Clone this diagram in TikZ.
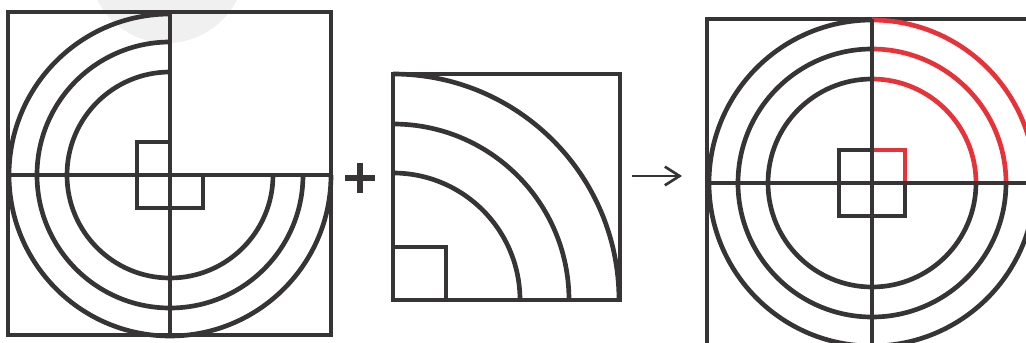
\documentclass[tikz,border=0pt]{standalone}
\usetikzlibrary{arrows.meta}
\definecolor{ink}{HTML}{363435}
\definecolor{hilite}{HTML}{E8323A}

\begin{document}
\begin{tikzpicture}[x=0.75pt, y=0.75pt,
    stroke/.style={draw=ink, line width=3.5pt},
    redstroke/.style={draw=hilite, line width=3.5pt}
]
\useasboundingbox (0,0) rectangle (1026,343);
\clip (0,0) rectangle (1026,343);

% faint shadow behind the left figure
\fill[black!6] (167,378) circle (78);

% left figure: three quarters
\coordinate (lc) at (170,168);
\draw[stroke] (8,8) rectangle (331,331);
\foreach \r in {161,133,103}
  \draw[stroke] (lc) ++(90:\r) arc[start angle=90, end angle=360, radius=\r];
\draw[stroke] (170,331) -- (170,8);
\draw[stroke] (8,168) -- (331,168);
\draw[stroke] (170,201) -- (137,201) -- (137,135) -- (203,135) -- (203,168);

% middle figure: the missing quarter
\coordinate (mc) at (393,43);
\draw[stroke] (mc) rectangle (620,269);
\foreach \r in {226,176,127}
  \draw[stroke] (mc) ++(0:\r) arc[start angle=0, end angle=90, radius=\r];
\draw[stroke] (mc) rectangle ++(53,53);

% plus and arrow
\coordinate (plus) at (360,165);
\draw[stroke, line width=3.8pt] (plus) ++(-15,0) -- ++(30,0);
\draw[stroke, line width=3.8pt] (plus) ++(0,-15) -- ++(0,30);
\coordinate (from) at (632,167);
\coordinate (to) at (682,167);
\draw[ink, line width=2pt, -{Straight Barb[length=11pt, width=14pt]}] (from) -- (to);

% right figure: completed target
\coordinate (rc) at (872,160);
\draw[stroke] (707,-10) rectangle (1045,324);
\foreach \r in {163,134,104}
  \draw[redstroke] (rc) ++(0:\r) arc[start angle=0, end angle=90, radius=\r];
\draw[redstroke] (872,193) -- (905,193) -- (905,160);
\foreach \r in {163,134,104}
  \draw[stroke] (rc) ++(90:\r) arc[start angle=90, end angle=360, radius=\r];
\draw[stroke] (872,193) -- (839,193) -- (839,127) -- (905,127) -- (905,160);
\draw[stroke] (872,324) -- (872,-10);
\draw[stroke] (707,160) -- (1045,160);

\end{tikzpicture}
\end{document}
